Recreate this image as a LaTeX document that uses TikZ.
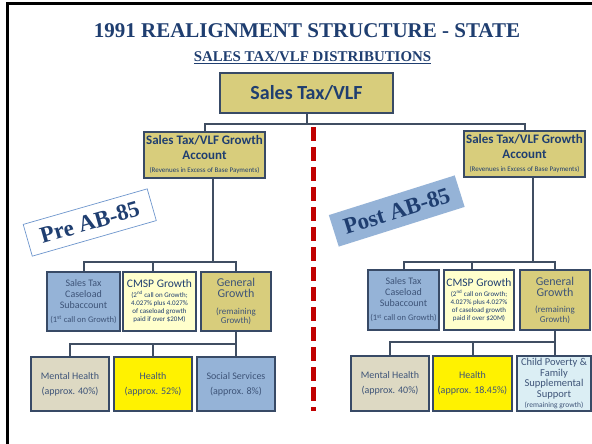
\documentclass[tikz,border=0pt]{standalone}
\usepackage{fontspec}
\setmainfont{Carlito}
\newfontfamily\slideserif{Liberation Serif}
\newcommand{\fsz}[2]{\fontsize{#1}{#2}\selectfont}
\newcommand{\notesz}{\fsz{7}{8}}
\definecolor{inkblue}{RGB}{31,62,112}
\definecolor{slateink}{RGB}{62,84,120}
\definecolor{boxedge}{RGB}{56,74,102}
\definecolor{linkgrey}{RGB}{64,78,98}
\definecolor{khaki}{RGB}{216,205,124}
\definecolor{skyfill}{RGB}{149,179,215}
\definecolor{creamfill}{RGB}{255,255,204}
\definecolor{tanfill}{RGB}{221,217,195}
\definecolor{paleblue}{RGB}{219,238,244}
\definecolor{divred}{RGB}{192,0,0}
\definecolor{tagedge}{RGB}{110,150,205}
\pgfdeclareradialshading{slideglow}{\pgfpoint{0bp}{0bp}}{color(0bp)=(white); color(28bp)=(white); color(55bp)=(gray!28); color(100bp)=(gray!28)}
\tikzset{
  box/.style={draw=boxedge, line width=1.3pt, inner sep=0pt, align=center, text=slateink},
  acct/.style={box, fill=khaki, text=inkblue},
  link/.style={draw=linkgrey, line width=2pt},
  tag/.style={inner sep=0pt, text=inkblue, font=\slideserif\bfseries\fsz{23}{25}},
}

\begin{document}
\begin{tikzpicture}[x=1pt,y=-1pt]
	\useasboundingbox (0,0) rectangle (592,444);
	\begin{scope}
		\clip (0,0) rectangle (592,444);
		\fill[white] (0,0) rectangle (592,444);
		\shade[shading=slideglow] (-160,-140) rectangle (680,520);
	\end{scope}
	\draw[line width=3pt] (7.5,444) -- (7.5,3.5) -- (592,3.5);
	% headings
	\node[anchor=base, text=inkblue, font=\slideserif\bfseries\fsz{21}{24}] (title) at (307,38) {1991 REALIGNMENT STRUCTURE - STATE};
	\node[anchor=base, text=inkblue, font=\slideserif\bfseries\fsz{14.9}{16}] (subtitle) at (312.5,62) {\underline{SALES TAX/VLF DISTRIBUTIONS}};
	% top of the tree
	\node[acct, minimum width=173pt, minimum height=40pt, font=\bfseries\fsz{20}{22}] (source) at (306.5,93) {Sales Tax/VLF};
	\node[acct, minimum width=121pt, minimum height=46pt, font=\bfseries\fsz{13}{15}] (lgrowth) at (204.5,155)
		{Sales Tax/VLF Growth\\Account\\[-2pt]\mdseries\notesz(Revenues in Excess of Base Payments)};
	\node[acct, minimum width=121pt, minimum height=46pt, font=\bfseries\fsz{13}{15}] (rgrowth) at (524.5,154)
		{Sales Tax/VLF Growth\\Account\\[-2pt]\mdseries\notesz(Revenues in Excess of Base Payments)};
	% era labels
	\node[tag, draw=tagedge, line width=0.7pt, fill=white, minimum width=129pt, minimum height=33pt, rotate=16] (pre) at (89.75,222.5) {Pre AB-85};
	\node[tag, fill=skyfill, minimum width=132pt, minimum height=33pt, rotate=17.5] (post) at (396.75,211) {Post AB-85};
	% pre AB-85 accounts
	\node[box, fill=skyfill, minimum width=73pt, minimum height=59pt, font=\fsz{10}{11}] (lcase) at (83.5,301.5)
		{Sales Tax\\Caseload\\Subaccount\\[3pt]\fsz{8.5}{10}(1\textsuperscript{st} call on Growth)};
	\node[box, fill=creamfill, minimum width=73pt, minimum height=59pt, text=inkblue, font=\notesz] (lcmsp) at (159.5,301.5)
		{\fsz{11.5}{12}CMSP Growth\\[2pt]\notesz(2\textsuperscript{nd} call on Growth;\\\notesz 4.027\% plus 4.027\%\\\notesz of caseload growth\\\notesz paid if over \$20M)};
	\node[box, fill=khaki, minimum width=70pt, minimum height=59pt, font=\fsz{9}{9.5}] (lgen) at (236,301.5)
		{\fsz{12}{12}General\\[1.5pt]\fsz{12}{12}Growth\\[7pt]\fsz{9}{9.5}(remaining\\\fsz{9}{9.5}Growth)};
	\node[box, fill=tanfill, minimum width=78pt, minimum height=54pt, font=\fsz{10}{15}] (lmh) at (70,384) {Mental Health\\(approx. 40\%)};
	\node[box, fill=yellow, minimum width=78pt, minimum height=54pt, font=\fsz{10}{15}] (lhl) at (153,384) {Health\\(approx. 52\%)};
	\node[box, fill=skyfill, minimum width=78pt, minimum height=54pt, font=\fsz{10}{15}] (lsoc) at (236,384) {Social Services\\(approx. 8\%)};
	% post AB-85 accounts
	\node[box, fill=skyfill, minimum width=71pt, minimum height=60pt, font=\fsz{10}{11}] (rcase) at (403.5,300)
		{Sales Tax\\Caseload\\Subaccount\\[3pt]\fsz{8.5}{10}(1\textsuperscript{st} call on Growth)};
	\node[box, fill=creamfill, minimum width=70pt, minimum height=60pt, text=inkblue, font=\notesz] (rcmsp) at (479,300)
		{\fsz{11.5}{12}CMSP Growth\\[2pt]\notesz(2\textsuperscript{nd} call on Growth;\\\notesz 4.027\% plus 4.027\%\\\notesz of caseload growth\\\notesz paid if over \$20M)};
	\node[box, fill=khaki, minimum width=70pt, minimum height=60pt, font=\fsz{9}{9.5}] (rgen) at (555,300)
		{\fsz{12}{12}General\\[1.5pt]\fsz{12}{12}Growth\\[7pt]\fsz{9}{9.5}(remaining\\\fsz{9}{9.5}Growth)};
	\node[box, fill=tanfill, minimum width=78pt, minimum height=55pt, font=\fsz{10}{15}] (rmh) at (390,383.5) {Mental Health\\(approx. 40\%)};
	\node[box, fill=yellow, minimum width=79pt, minimum height=55pt, font=\fsz{10}{15}] (rhl) at (472.5,383.5) {Health\\(approx. 18.45\%)};
	\node[box, fill=paleblue, minimum width=74pt, minimum height=55pt, font=\fsz{10.5}{10.5}] (rcp) at (554,383.5)
		{Child Poverty \&\\Family\\Supplemental\\Support\\\fsz{7.5}{9}(remaining growth)};
	% connectors
	\coordinate (bustop) at (306.5,123.5);
	\coordinate (buspre) at (213,262);
	\coordinate (buspost) at (533,262);
	\coordinate (buslow) at (236,344);
	\coordinate (buspostlow) at (555,342);
	\draw[link] (source.south) -- (bustop);
	\draw[link] (lgrowth.north) |- (bustop) -| (rgrowth.north);
	\draw[link] (lgrowth.south -| buspre) -- (buspre);
	\draw[link] (lcase.north) |- (buspre) -| (lgen.north);
	\draw[link] ([xshift=-7pt]lcmsp.north) -- ([xshift=-7pt]lcmsp.north |- buspre);
	\draw[link] (rgrowth.south -| buspost) -- (buspost);
	\draw[link] (rcase.north) |- (buspost) -| (rgen.north);
	\draw[link] ([xshift=-7pt]rcmsp.north) -- ([xshift=-7pt]rcmsp.north |- buspost);
	\draw[link] (lgen.south) -- (buslow);
	\draw[link] (lmh.north) |- (buslow) -- (lsoc.north);
	\draw[link] (lhl.north) -- (lhl.north |- buslow);
	\draw[link] (rgen.south) -- (buspostlow);
	\draw[link] (rmh.north) |- (buspostlow);
	\draw[link] (rhl.north) -- (rhl.north |- buspostlow);
	\draw[link] (rcp.north -| buspostlow) -- (buspostlow);
	% divider between the two eras
	\coordinate (divtop) at (313.5,127);
	\coordinate (divbot) at (313.5,411);
	\draw[divred, line width=4.5pt, dash pattern=on 14pt off 6pt] (divtop) -- (divbot);
\end{tikzpicture}
\end{document}
